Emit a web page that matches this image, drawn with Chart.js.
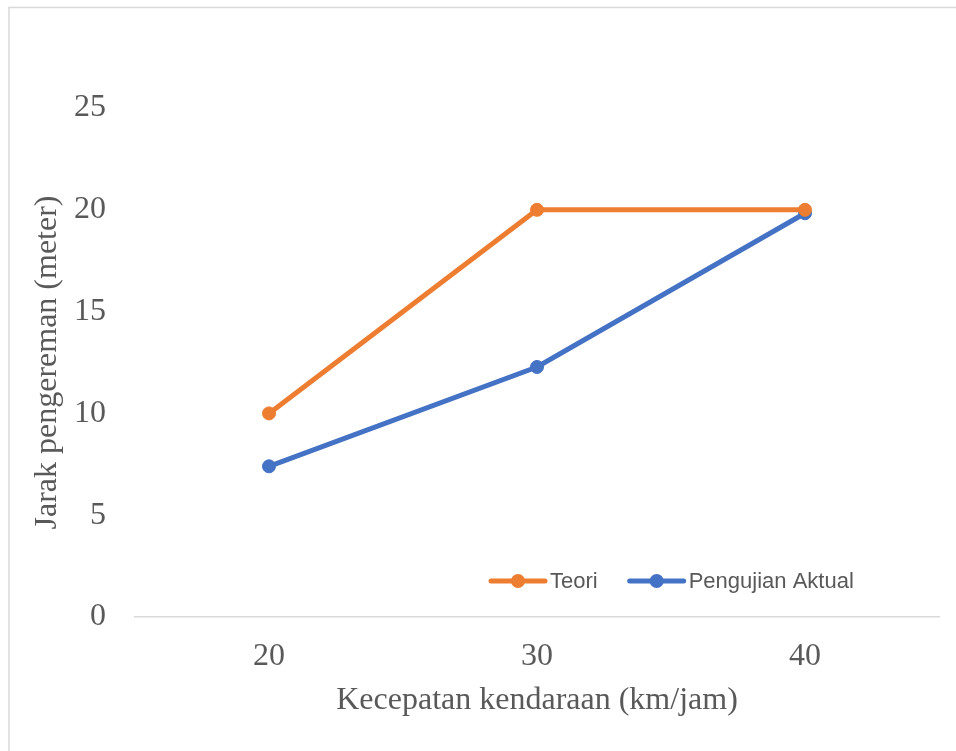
<!DOCTYPE html>
<html>
<head>
<meta charset="utf-8">
<script src="https://cdn.jsdelivr.net/npm/chart.js@4.4.1/dist/chart.umd.min.js"></script>
<style>
  html, body { margin: 0; padding: 0; background: #ffffff; }
  #wrap { width: 956px; height: 751px; position: relative; }
</style>
</head>
<body>
<div id="wrap"><canvas id="c" width="956" height="751"></canvas></div>
<script>
// ---- data ----
const categories = ['20', '30', '40'];
const seriesNames = ['Teori', 'Pengujian Aktual'];
const teori = [10, 20, 20];
const pengujianAktual = [7.4, 12.28, 19.83];
const yTicks = [0, 5, 10, 15, 20, 25];
const xTitle = 'Kecepatan kendaraan (km/jam)';
const yTitle = 'Jarak pengereman (meter)';

const ORANGE = '#ED7D31';
const BLUE = '#4472C4';
const TEXT = '#595959';
const SERIF = '"Liberation Serif", "Times New Roman", serif';
const SANS = '"Liberation Sans", Arial, sans-serif';

const framePlugin = {
  id: 'frame',
  beforeDraw(chart) {
    const ctx = chart.ctx;
    ctx.save();
    ctx.fillStyle = '#ffffff';
    ctx.fillRect(0, 0, chart.width, chart.height);
    ctx.strokeStyle = '#d9d9d9';
    ctx.lineWidth = 1.5;
    ctx.beginPath();
    ctx.moveTo(9, chart.height);
    ctx.lineTo(9, 7.5);
    ctx.lineTo(chart.width, 7.5);
    ctx.stroke();
    ctx.restore();
  }
};

const legendPlugin = {
  id: 'innerLegend',
  afterDraw(chart) {
    const ctx = chart.ctx;
    const y = 581;
    let x = 491;
    ctx.save();
    ctx.font = '22px ' + SANS;
    ctx.textBaseline = 'middle';
    ctx.textAlign = 'left';
    chart.data.datasets.forEach((ds) => {
      ctx.strokeStyle = ds.borderColor;
      ctx.lineWidth = 5;
      ctx.lineCap = 'round';
      ctx.beginPath();
      ctx.moveTo(x, y);
      ctx.lineTo(x + 54, y);
      ctx.stroke();
      ctx.fillStyle = ds.borderColor;
      ctx.beginPath();
      ctx.arc(x + 27, y, 7, 0, Math.PI * 2);
      ctx.fill();
      ctx.fillStyle = TEXT;
      ctx.fillText(ds.label, x + 59, y + 1);
      const w = ctx.measureText(ds.label).width;
      x = x + 59 + w + 32;
    });
    ctx.restore();
  }
};

new Chart(document.getElementById('c'), {
  type: 'line',
  data: {
    labels: categories,
    datasets: [
      {
        label: seriesNames[0],
        data: teori,
        borderColor: ORANGE,
        backgroundColor: ORANGE,
        borderWidth: 5,
        pointRadius: 6.5,
        pointBorderWidth: 1,
        pointBackgroundColor: ORANGE,
        pointBorderColor: ORANGE,
        tension: 0,
        fill: false
      },
      {
        label: seriesNames[1],
        data: pengujianAktual,
        borderColor: BLUE,
        backgroundColor: BLUE,
        borderWidth: 5,
        pointRadius: 6.5,
        pointBorderWidth: 1,
        pointBackgroundColor: BLUE,
        pointBorderColor: BLUE,
        tension: 0,
        fill: false
      }
    ]
  },
  options: {
    responsive: false,
    animation: false,
    devicePixelRatio: 1,
    layout: { padding: { left: 20, right: 17, top: 108, bottom: 20 } },
    plugins: {
      legend: { display: false },
      tooltip: { enabled: false }
    },
    scales: {
      x: {
        type: 'category',
        offset: true,
        grid: { display: false, drawTicks: false },
        border: { display: true, color: '#d9d9d9', width: 1.5 },
        ticks: { color: TEXT, font: { family: SERIF, size: 32 }, padding: 20, maxRotation: 0 },
        title: { display: true, text: xTitle, color: TEXT, font: { family: SERIF, size: 32 }, padding: { top: 0, bottom: 11 } },
        afterFit(scale) { scale.height = 114; }
      },
      y: {
        min: 0,
        max: 25,
        afterBuildTicks(scale) { scale.ticks = yTicks.map(v => ({ value: v })); },
        grid: { display: false, drawTicks: false },
        border: { display: false },
        ticks: { color: TEXT, font: { family: SERIF, size: 32 }, padding: 29 },
        title: { display: true, text: yTitle, color: TEXT, font: { family: SERIF, size: 32 }, padding: { top: 8, bottom: 0 } },
        afterFit(scale) { scale.width = 115; }
      }
    }
  },
  plugins: [framePlugin, legendPlugin]
});
</script>
</body>
</html>
